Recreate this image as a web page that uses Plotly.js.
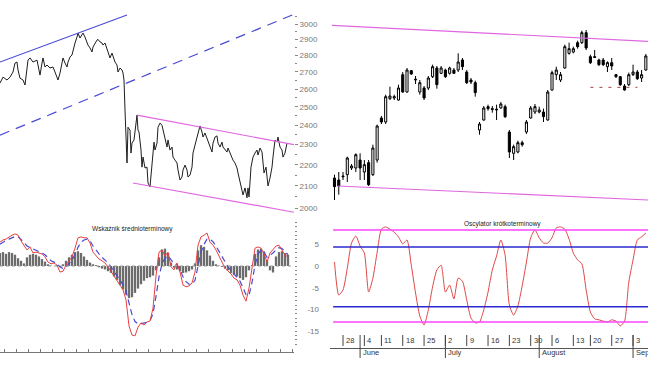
<!DOCTYPE html>
<html><head><meta charset="utf-8">
<script src="https://cdn.plot.ly/plotly-3.0.1.min.js"></script>
<style>html,body{margin:0;padding:0;background:#fff;}#chart{width:648px;height:365px;}</style>
</head><body><div id="chart"></div>
<script>
// ---------- Left top: long-term index (log scale) ----------
const leftX = [0,3,7,10,13,15,17,18,20,23,25,27,28,30,33,37,38,40,42,43,45,47,50,53,55,57,58,60,62,63,65,67,68,70,72,73,75,77,78,80,82,83,85,87,88,90,92,93,95,97,98,100,102,103,105,107,108,110,112,113,115,117,118,120,122,123,124,125,126,127,128,130,131,132,134,135,137,138,139,141,142,143,145,147,148,150,152,153,154,155,157,158,160,162,163,165,167,168,170,172,173,175,177,178,180,182,183,185,187,188,190,192,193,195,197,198,200,202,203,205,207,208,210,212,213,215,217,218,220,222,223,225,227,228,230,232,233,235,237,238,240,242,243,245,247,248,249,251,252,253,255,257,258,260,262,263,264,266,267,268,270,272,273,275,277,278,280,282,283,285,287];
const leftClose = [2634,2669,2652,2669,2699,2753,2759,2711,2663,2652,2623,2729,2771,2784,2759,2771,2741,2681,2753,2784,2729,2741,2723,2729,2699,2669,2652,2693,2741,2784,2753,2729,2759,2790,2802,2833,2877,2915,2941,2909,2928,2941,2915,2884,2864,2846,2821,2852,2877,2896,2900,2884,2877,2864,2877,2833,2814,2784,2814,2790,2759,2741,2699,2723,2711,2693,2652,2483,2324,2209,2390,2375,2258,2308,2324,2365,2455,2375,2365,2273,2189,2238,2185,2189,2114,2096,2189,2273,2313,2273,2308,2390,2412,2400,2375,2339,2288,2324,2273,2288,2238,2223,2209,2175,2128,2142,2175,2199,2175,2142,2151,2189,2258,2298,2334,2365,2397,2365,2339,2360,2334,2313,2288,2263,2308,2339,2345,2308,2288,2313,2288,2273,2263,2283,2258,2238,2223,2209,2185,2161,2119,2082,2059,2091,2046,2091,2050,2189,2213,2238,2258,2273,2248,2283,2263,2189,2161,2189,2151,2100,2137,2189,2238,2324,2313,2339,2288,2273,2238,2258,2308];
const blueTopX = [0,127],   blueTopY = [2759,3060];
const blueDashX = [0,294],  blueDashY = [2349,3065];
const pinkTopX = [137,294], pinkTopY = [2455,2300];
const pinkLowX = [133,294], pinkLowY = [2114,1982];
const leftTicks = [2000,2100,2200,2300,2400,2500,2600,2700,2800,2900,3000];
const leftMinorTicks = [2050,2150,2250,2350,2450,2550,2650,2750,2850,2950,3050];

// ---------- Left bottom: medium-term indicator ----------
const oscX = [0,3,6,9,12,15,18,21,24,27,30,33,36,39,42,45,48,51,54,57,60,63,66,69,72,75,78,81,84,87,90,93,96,99,102,105,108,111,114,117,120,123,126,129,132,135,138,141,144,147,150,153,156,159,162,165,168,171,174,177,180,183,186,189,192,195,198,201,204,207,210,213,216,219,222,225,228,231,234,237,240,243,246,249,252,255,258,261,264,267,270,273,276,279,282,285,288];
const macd = [5.5,6.0,6.2,6.7,7.1,7.4,7.1,5.8,4.6,3.7,4.4,3.0,3.2,3.0,2.8,2.1,0.9,0.5,0.7,0.2,-1.4,-1.2,0.2,1.2,2.1,4.1,6.5,6.7,6.5,6.5,5.3,3.2,2.3,1.6,1.2,0.7,-0.2,-1.2,-2.3,-3.2,-4.4,-5.5,-7.8,-13.8,-15.9,-16.1,-14.1,-13.1,-13.6,-12.9,-12.7,-9.7,-2.3,3.2,3.7,2.3,3.2,-0.2,-0.9,0.7,-1.4,-4.4,-4.8,-4.6,-3.9,-1.4,4.8,6.7,7.1,7.6,5.5,4.8,3.7,2.3,0.7,-0.5,-1.2,-1.8,-2.8,-3.2,-4.4,-6.7,-8.1,-5.1,-0.5,4.1,4.4,4.1,2.8,0.9,3.0,3.7,4.6,4.8,3.7,2.5,2.1];
const signal = [5.0,5.5,5.9,6.2,6.5,6.8,6.8,6.2,5.4,4.6,4.3,4.0,3.6,3.3,3.0,2.6,1.8,1.2,0.9,0.6,-0.2,-0.6,-0.2,0.5,1.3,2.6,4.3,5.5,6.0,6.2,5.8,4.6,3.6,2.8,2.0,1.4,0.7,-0.2,-1.2,-2.2,-3.2,-4.3,-5.8,-8.5,-11.2,-12.8,-13.3,-13.3,-13.2,-13.0,-12.6,-11.0,-7.0,-2.5,0.5,1.8,2.4,1.5,0.5,0.3,-0.8,-2.5,-3.6,-4.2,-4.2,-3.3,0.0,3.2,5.0,6.2,6.2,5.6,4.6,3.4,2.0,0.8,-0.2,-1.0,-1.9,-2.6,-3.5,-5.0,-6.6,-6.8,-3.8,0.2,2.8,3.6,3.2,2.0,2.4,3.0,3.7,4.2,4.0,3.2,2.6];
const histo = [3.0,3.2,2.8,3.2,3.0,2.6,1.8,1.2,0.6,2.0,2.6,2.8,2.6,2.2,1.6,1.0,0.4,0.1,0.0,0.2,-0.3,0.4,1.2,2.0,2.6,3.2,3.4,3.0,2.2,1.4,0.8,0.4,0.2,-0.3,-0.6,-0.8,-1.2,-1.6,-2.4,-3.2,-4.4,-5.4,-6.6,-7.4,-7.2,-6.2,-5.2,-4.2,-3.4,-2.8,-2.6,-2.2,-1.0,2.0,3.8,4.0,3.0,0.8,-0.4,-0.8,-1.2,-1.6,-1.5,-1.2,-0.8,0.6,3.6,4.8,4.4,3.6,2.4,1.2,0.4,0.1,-0.2,-0.6,-1.0,-1.6,-2.0,-2.4,-2.8,-3.2,-2.6,-1.0,0.2,2.8,3.8,4.0,3.4,1.4,-1.0,-1.5,2.2,3.2,3.4,3.0,2.6];
const oscTicks = [5,0,-5,-10,-15];

// ---------- Right top: daily candles (trading-day index, 24 May .. 6 Sep) ----------
const dayIdx = [0,1,2,3,4,5,6,7,8,9,10,11,12,13,14,15,16,17,18,19,20,21,22,23,24,25,26,27,28,29,30,31,32,33,34,35,36,37,38,39,40,41,42,43,44,45,46,47,48,49,50,51,52,53,54,55,56,57,58,59,60,61,62,63,64,65,66,67,68,69,70,71,72,73];
const candleOpen  = [2113,2110,2116,2118,2128,2128,2140,2122,2136,2118,2140,2203,2197,2232,2233,2230,2268,2242,2274,2260,2242,2248,2248,2265,2278,2270,2275,2270,2275,2275,2290,2272,2260,2256,2185,2200,2220,2217,2215,2218,2220,2182,2150,2152,2166,2182,2203,2212,2212,2212,2200,2245,2268,2260,2278,2300,2302,2316,2316,2331,2295,2295,2290,2290,2280,2286,2268,2265,2251,2253,2268,2272,2263,2275];
const candleHigh  = [2118,2122,2122,2145,2134,2150,2150,2140,2140,2163,2193,2206,2238,2250,2238,2253,2272,2278,2275,2266,2260,2251,2266,2283,2281,2281,2277,2280,2278,2300,2293,2275,2263,2259,2197,2221,2223,2221,2223,2227,2223,2185,2163,2169,2169,2200,2221,2224,2220,2217,2245,2274,2280,2272,2313,2316,2310,2319,2334,2335,2298,2305,2292,2293,2288,2293,2269,2266,2254,2271,2283,2275,2275,2299];
const candleLow   = [2080,2088,2110,2107,2125,2122,2110,2110,2101,2116,2136,2194,2194,2230,2230,2229,2241,2241,2268,2254,2238,2230,2245,2263,2247,2269,2263,2268,2269,2272,2275,2254,2254,2235,2178,2199,2214,2211,2200,2217,2203,2143,2140,2150,2160,2179,2202,2209,2210,2197,2199,2244,2260,2257,2277,2298,2300,2307,2314,2305,2284,2293,2281,2281,2272,2275,2263,2251,2244,2251,2266,2260,2257,2274];
const candleClose = [2100,2101,2115,2143,2131,2148,2128,2133,2103,2158,2191,2197,2235,2236,2235,2248,2242,2275,2269,2261,2256,2233,2263,2280,2253,2278,2265,2278,2270,2287,2280,2256,2257,2241,2194,2218,2217,2216,2216,2224,2205,2152,2160,2166,2163,2197,2218,2220,2215,2205,2242,2271,2275,2268,2310,2307,2307,2310,2331,2308,2286,2294,2283,2283,2286,2281,2265,2253,2245,2268,2272,2262,2268,2296];
const rightTopLineX = [-0.6,73.5], rightTopLineY = [2342,2318];
const rightLowLineX = [0.8,73.5],  rightLowLineY = [2101,2080];
const supportX = [60,71], supportY = [2249,2249];

// ---------- Right bottom: short-term oscillator ----------
const osc = [0.9,-6.7,-5.5,-0.5,5.3,6.9,4.6,3.0,-6.0,-2.8,3.2,8.5,9.0,8.5,7.8,6.7,5.1,6.0,0.2,-6.2,-11.5,-13.6,-10.1,-4.8,-0.9,0.2,-6.0,-4.4,-7.6,-2.8,-3.5,-7.8,-12.0,-13.1,-12.9,-10.1,-6.0,-0.9,2.3,6.0,2.5,-9.0,-11.3,-9.2,-4.6,0.9,6.5,8.3,6.5,5.3,5.3,6.5,8.8,9.0,8.5,6.2,3.0,1.4,0.5,-5.5,-10.6,-12.2,-12.4,-12.7,-12.9,-12.4,-12.7,-13.8,-12.7,-3.7,1.4,6.0,6.7,7.6];
const oscOuterLevels = [8.3,-12.9];
const oscInnerLevels = [4.4,-9.4];
const weekTickIdx = [2,7,11,16,21,26,31,36,41,46,51,56,60,65,70];
const weekTickLabels = ['28','4','11','18','25','2','9','16','23','30','6','13','20','27','3'];
const monthTickIdx = [6,26,48,70];
const monthLabels = ['June','July','August','September'];

// ---------- layout helpers ----------
const H = 365, W = 648;
const py = p => 1 - p / H;
const FONT = 'Liberation Sans, Arial, sans-serif';
const BLUE = '#4a4ad6', PINK = '#e066e0', RED = '#e84040';

const traces = [
  {x: leftX, y: leftClose, xaxis:'x', yaxis:'y', mode:'lines', line:{color:'#1e1e1e', width:1}},
  {x: blueTopX, y: blueTopY, xaxis:'x', yaxis:'y', mode:'lines', line:{color:BLUE, width:1.2}},
  {x: blueDashX, y: blueDashY, xaxis:'x', yaxis:'y', mode:'lines', line:{color:BLUE, width:1.2, dash:'10px,7px'}},
  {x: pinkTopX, y: pinkTopY, xaxis:'x', yaxis:'y', mode:'lines', line:{color:PINK, width:1.2}},
  {x: pinkLowX, y: pinkLowY, xaxis:'x', yaxis:'y', mode:'lines', line:{color:PINK, width:1.2}},

  {type:'bar', x: oscX, y: histo, xaxis:'x2', yaxis:'y2', width:2.3, marker:{color:'#6c6c6c', line:{width:0}}},
  {x: oscX, y: signal, xaxis:'x2', yaxis:'y2', mode:'lines', line:{color:BLUE, width:1.2, dash:'6px,4px'}},
  {x: oscX, y: macd, xaxis:'x2', yaxis:'y2', mode:'lines', line:{color:RED, width:1}},

  {x: rightTopLineX, y: rightTopLineY, xaxis:'x3', yaxis:'y3', mode:'lines', line:{color:PINK, width:1.2}},
  {x: rightLowLineX, y: rightLowLineY, xaxis:'x3', yaxis:'y3', mode:'lines', line:{color:PINK, width:1.2}},
  {x: supportX, y: supportY, xaxis:'x3', yaxis:'y3', mode:'lines', line:{color:'#a04040', width:1, dash:'3px,6px'}},
  {type:'candlestick', x: dayIdx, open: candleOpen, high: candleHigh, low: candleLow, close: candleClose,
   xaxis:'x3', yaxis:'y3', whiskerwidth:0,
   increasing:{line:{color:'#000', width:1}, fillcolor:'#ffffff'},
   decreasing:{line:{color:'#000', width:1}, fillcolor:'#000000'}},

  {x: dayIdx, y: osc, xaxis:'x4', yaxis:'y4', mode:'lines', line:{color:'#e04848', width:1, shape:'spline', smoothing:0.6}}
];

const shapes = [];
shapes.push({type:'line', xref:'x2 domain', yref:'y2', x0:0, x1:1, y0:0, y1:0, line:{color:'#999', width:1, dash:'dot'}});
oscOuterLevels.forEach(v => shapes.push({type:'line', xref:'x4 domain', yref:'y4', x0:0.01, x1:1, y0:v, y1:v, line:{color:'#ff44ff', width:1.5}}));
oscInnerLevels.forEach(v => shapes.push({type:'line', xref:'x4 domain', yref:'y4', x0:0.01, x1:1, y0:v, y1:v, line:{color:'#2a2ad0', width:1.5}}));
weekTickIdx.forEach(i => shapes.push({type:'line', xref:'x4', yref:'paper', x0:i, x1:i, y0:py(346), y1:py(335), line:{color:'#444', width:1}}));
monthTickIdx.forEach(i => shapes.push({type:'line', xref:'x4', yref:'paper', x0:i, x1:i, y0:py(358), y1:py(335), line:{color:'#444', width:1}}));

const annotations = [];
weekTickIdx.forEach((i,k) => annotations.push({xref:'x4', yref:'paper', x:i, y:py(340), text:weekTickLabels[k], showarrow:false, xanchor:'left', yanchor:'middle', xshift:1, font:{size:7.5, color:'#333', family:FONT}}));
monthTickIdx.forEach((i,k) => annotations.push({xref:'x4', yref:'paper', x:i, y:py(352), text:monthLabels[k], showarrow:false, xanchor:'left', yanchor:'middle', xshift:1, font:{size:7.5, color:'#333', family:FONT}}));
annotations.push({xref:'paper', yref:'paper', x:90/W, y:py(229), text:'Wskaźnik średnioterminowy', showarrow:false, xanchor:'left', yanchor:'middle', font:{size:6.5, color:'#222', family:FONT}});
annotations.push({xref:'paper', yref:'paper', x:462/W, y:py(224), text:'Oscylator krótkoterminowy', showarrow:false, xanchor:'left', yanchor:'middle', font:{size:6.5, color:'#222', family:FONT}});

const leftDom = [0, 294/W], rightDom = [330/W, 1];
const topDom = [py(215), 1], botDom = [py(348), py(220)];
const oscRange = [-18.894, 10.599];

const layout = {
  width: W, height: H, margin:{l:0, r:0, t:0, b:0},
  paper_bgcolor:'#fff', plot_bgcolor:'#fff', showlegend:false,
  font:{family:FONT, size:8, color:'#666'},
  xaxis:{domain:leftDom, range:[0,294], anchor:'y', visible:false},
  yaxis:{domain:topDom, type:'log', range:[Math.log10(1970), Math.log10(3163)], anchor:'x', side:'right',
         tickvals:leftTicks, ticktext:leftTicks.map(String), ticks:'outside', ticklen:3, tickcolor:'#888',
         tickfont:{size:8, color:'#777'}, showgrid:false, zeroline:false, showline:false,
         minor:{tickvals:leftMinorTicks, ticks:'outside', ticklen:1.5, tickcolor:'#888'}},
  xaxis2:{domain:leftDom, range:[0,294], anchor:'free', position:py(352), showline:true, linecolor:'#777',
          ticks:'inside', ticklen:3, tickcolor:'#777', dtick:12, tick0:4, showticklabels:false, showgrid:false, zeroline:false},
  yaxis2:{domain:botDom, range:oscRange, anchor:'x2', side:'right', dtick:1, ticks:'outside', ticklen:1.5, tickcolor:'#888',
          showticklabels:false, showgrid:false, zeroline:false, showline:false},
  xaxis3:{domain:rightDom, range:[-1.055, 73.505], anchor:'y3', visible:false, rangeslider:{visible:false}},
  yaxis3:{domain:topDom, range:[2057.5, 2380], anchor:'x3', visible:false},
  xaxis4:{domain:rightDom, range:[-1.055, 73.505], anchor:'y4', showline:true, linecolor:'#555', ticks:'',
          showticklabels:false, showgrid:false, zeroline:false},
  yaxis4:{domain:botDom, range:oscRange, anchor:'x4', side:'left', tickvals:oscTicks, ticktext:oscTicks.map(String),
          ticks:'', ticklabelstandoff:10, tickfont:{size:8, color:'#777'}, showgrid:false, zeroline:false, showline:false},
  shapes: shapes, annotations: annotations
};

Plotly.newPlot('chart', traces, layout, {displayModeBar:false, staticPlot:true});
</script>
</body></html>
